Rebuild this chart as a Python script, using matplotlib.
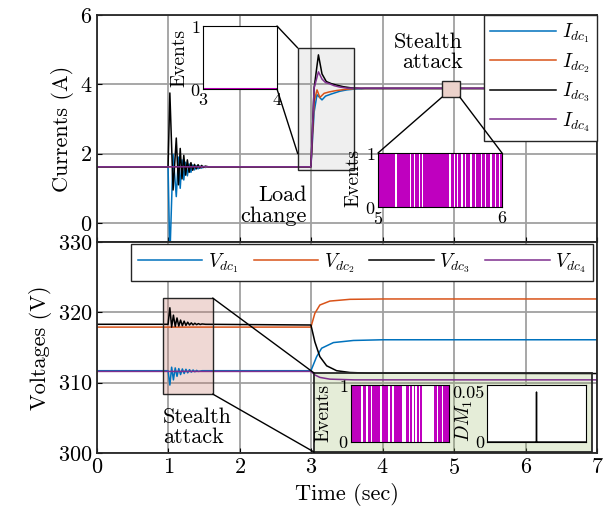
import matplotlib
matplotlib.use('Agg')
import matplotlib.pyplot as plt
from matplotlib.patches import Rectangle, ConnectionPatch

plt.rcParams.update({
    'font.family': 'serif',
    'font.serif': ['cmr10'],
    'mathtext.fontset': 'cm',
    'axes.formatter.use_mathtext': True,
    'font.size': 16,
    'xtick.direction': 'in',
    'ytick.direction': 'in',
})

W, H = 613, 527

# colours (MATLAB defaults)
C1, C2, C3, C4 = '#0072BD', '#D95319', 'black', '#7E2F8E'
EV = '#BF00BF'

# ---- currents (top) ----
i1_t = [0, 0.995, 1.02, 1.065, 1.11, 1.14, 1.165, 1.19, 1.215, 1.24, 1.265, 1.29, 1.315, 1.34, 1.365, 1.39, 1.415,
        1.44, 1.465, 1.49, 1.515, 1.56,
        2.995, 3.04, 3.08, 3.15, 3.2, 3.28, 3.4, 3.5, 3.6, 3.75, 7.0]
i1_v = [1.62, 1.62, -1.0, 1.98, 0.76, 1.90, 1.00, 1.82, 1.24, 1.75, 1.36, 1.70, 1.46, 1.67, 1.53, 1.65, 1.56,
        1.64, 1.58, 1.63, 1.60, 1.62,
        1.62, 3.2, 3.7, 3.55, 3.66, 3.72, 3.8, 3.84, 3.86, 3.88, 3.88]
i2_t = [0, 2.995, 3.04, 3.08, 3.12, 3.18, 3.25, 3.35, 3.5, 3.65, 7.0]
i2_v = [1.62, 1.62, 3.5, 3.84, 3.62, 3.74, 3.78, 3.82, 3.86, 3.88, 3.88]
i3_t = [0, 0.995, 1.02, 1.065, 1.11, 1.14, 1.165, 1.19, 1.215, 1.24, 1.265, 1.29, 1.315, 1.34, 1.365, 1.39, 1.415,
        1.44, 1.465, 1.49, 1.515, 1.56,
        2.995, 3.04, 3.1, 3.15, 3.21, 3.28, 3.35, 3.45, 3.55, 3.7, 7.0]
i3_v = [1.62, 1.62, 3.75, 0.95, 2.45, 1.10, 2.15, 1.27, 1.95, 1.38, 1.82, 1.46, 1.74, 1.52, 1.69, 1.56, 1.68,
        1.58, 1.66, 1.60, 1.64, 1.62,
        1.62, 3.9, 4.85, 4.3, 4.08, 4.02, 3.98, 3.93, 3.9, 3.88, 3.88]
i4_t = [0, 2.995, 3.04, 3.1, 3.15, 3.2, 3.25, 3.32, 3.4, 3.5, 7.0]
i4_v = [1.62, 1.62, 3.9, 4.36, 4.15, 4.05, 4.02, 3.96, 3.92, 3.89, 3.88]

# ---- voltages (bottom) ----
v1_t = [0, 0.995, 1.02, 1.045, 1.07, 1.095, 1.12, 1.145, 1.17, 1.195, 1.22, 1.245, 1.27, 1.295, 1.32, 1.345, 1.37,
        1.395, 1.42, 1.47,
        2.995, 3.075, 3.145, 3.31, 3.59, 4.0, 7.0]
v1_v = [311.7, 311.7, 309.66, 312.2, 310.4, 312.1, 310.9, 312.0, 311.15, 311.95, 311.3, 311.9, 311.4, 311.85, 311.5, 311.8, 311.55,
        311.75, 311.6, 311.7,
        311.7, 313.7, 314.9, 315.7, 316.0, 316.1, 316.1]
v2_t = [0, 2.995, 3.05, 3.12, 3.26, 3.54, 4.0, 7.0]
v2_v = [317.9, 317.9, 319.86, 321.04, 321.6, 321.85, 321.9, 321.9]
v3_t = [0, 0.995, 1.02, 1.045, 1.07, 1.095, 1.12, 1.145, 1.17, 1.195, 1.22, 1.245, 1.27, 1.295, 1.32, 1.345, 1.37,
        1.395, 1.42, 1.445, 1.47, 1.52,
        2.995, 3.05, 3.12, 3.215, 3.355, 3.54, 3.8, 7.0]
v3_v = [318.3, 318.3, 320.65, 317.9, 319.6, 318.0, 319.2, 318.05, 318.9, 318.1, 318.75, 318.15, 318.6, 318.2, 318.5, 318.22, 318.45,
        318.25, 318.4, 318.27, 318.35, 318.3,
        318.2, 315.8, 313.7, 312.4, 311.7, 311.45, 311.35, 311.3]
v4_t = [0, 2.995, 3.05, 3.12, 3.26, 3.6, 7.0]
v4_v = [311.6, 311.6, 311.1, 310.75, 310.5, 310.4, 310.4]

# ---- event insets ----
ev1_t = [3, 4]
ev1_v = [0, 0]
ev2_bursts = [(5.0, 5.137), (5.156, 5.256), (5.269, 5.288), (5.298, 5.327), (5.335, 5.356), (5.364, 5.573),
              (5.588, 5.612), (5.620, 5.639), (5.646, 5.673), (5.683, 5.704), (5.712, 5.744), (5.757, 5.784),
              (5.794, 5.831), (5.842, 5.863), (5.873, 5.902), (5.916, 5.942), (5.955, 5.976), (5.987, 5.997)]
ev3_bursts = [(0, 0.105), (0.122, 0.156), (0.173, 0.203), (0.217, 0.298), (0.319, 0.373), (0.393, 0.420),
              (0.434, 0.519), (0.563, 0.590), (0.607, 0.627), (0.641, 0.658), (0.671, 0.692), (0.702, 0.725),
              (0.847, 0.875), (0.888, 0.925), (0.936, 1.0)]
dm_t = [0, 0.499, 0.5, 0.501, 1]
dm_v = [0, 0, 0.05, 0, 0]

x_ticks = [0, 1, 2, 3, 4, 5, 6, 7]
i_ticks = [0, 2, 4, 6]
v_ticks = [300, 310, 320, 330]


def box(l, t, r, b):
    return [l / W, 1 - b / H, (r - l) / W, (b - t) / H]


def style(ax):
    ax.grid(True, color='#a0a0a0', lw=1.3)
    for s in ax.spines.values():
        s.set_color('#262626')
        s.set_linewidth(1.3)


fig = plt.figure(figsize=(W / 100, H / 100), dpi=100)

# ================= top: currents =================
ax1 = fig.add_axes(box(97, 15, 597, 242))
lw = 1.1
ax1.plot(i1_t, i1_v, color=C1, lw=lw, label=r'$I_{dc_1}$')
ax1.plot(i2_t, i2_v, color=C2, lw=lw, label=r'$I_{dc_2}$')
ax1.plot(i3_t, i3_v, color=C3, lw=lw, label=r'$I_{dc_3}$')
ax1.plot(i4_t, i4_v, color=C4, lw=lw, label=r'$I_{dc_4}$')
ax1.set_xlim(0, 7)
ax1.set_ylim(-0.55, 6)
ax1.set_xticks(x_ticks)
ax1.set_xticklabels([])
ax1.set_yticks(i_ticks)
ax1.set_ylabel('Currents (A)', fontsize=16)
style(ax1)
leg1 = ax1.legend(loc='upper right', borderaxespad=0, fancybox=False, framealpha=1,
                  edgecolor='#262626', fontsize=14, handlelength=3.4, handletextpad=0.3,
                  labelspacing=0.3, borderpad=0.35)
leg1.get_frame().set_linewidth(1.0)

ax1.add_patch(Rectangle((2.81, 1.53), 0.79, 3.52, facecolor='#808080', alpha=0.12, edgecolor='none', zorder=1.6))
ax1.add_patch(Rectangle((2.81, 1.53), 0.79, 3.52, facecolor='none', edgecolor='#262626', lw=1.0, zorder=3))
ax1.add_patch(Rectangle((4.83, 3.63), 0.25, 0.47, facecolor='#ecd2cb', edgecolor='#262626', lw=1.0, zorder=3))

ax1.text(5.12, 4.93, 'Stealth\nattack', ha='right', va='center', multialignment='right',
         fontsize=16, linespacing=1.05)
ax1.text(2.94, 0.50, 'Load\nchange', ha='right', va='center', multialignment='right',
         fontsize=16, linespacing=1.05)

# inset: events 3-4
in1 = fig.add_axes(box(203, 26, 277, 89))
in1.plot(ev1_t, ev1_v, color=EV, lw=1.5)
in1.set_xlim(3, 4)
in1.set_ylim(0, 1)
in1.set_xticks([3, 4])
in1.set_yticks([0, 1])
in1.tick_params(labelsize=13, pad=2, length=0)
in1.set_ylabel('Events', fontsize=14)
in1.yaxis.set_label_coords(-0.2, 0.5)

# inset: events 5-6
in2 = fig.add_axes(box(378, 153, 502, 207))
in2.broken_barh([(a, b - a) for a, b in ev2_bursts], (0, 1), facecolors=EV, edgecolor='none')
in2.set_xlim(5, 6)
in2.set_ylim(0, 1)
in2.set_xticks([5, 6])
in2.set_yticks([0, 1])
in2.tick_params(labelsize=13, pad=2, length=0)
in2.set_ylabel('Events', fontsize=14)
in2.yaxis.set_label_coords(-0.125, 0.54)

for xa, xb in [((1, 1), (2.81, 5.05)), ((1, 0), (2.81, 2.0))]:
    fig.add_artist(ConnectionPatch(xa, xb, coordsA=in1.transAxes, coordsB=ax1.transData, lw=1.0, color='black'))
for xa, xb in [((4.83, 3.63), (0, 1)), ((5.08, 3.63), (1, 1))]:
    fig.add_artist(ConnectionPatch(xa, xb, coordsA=ax1.transData, coordsB=in2.transAxes, lw=1.0, color='black'))

# ================= bottom: voltages =================
ax2 = fig.add_axes(box(97, 242, 597, 453))
ax2.plot(v1_t, v1_v, color=C1, lw=lw, label=r'$V_{dc_1}$')
ax2.plot(v2_t, v2_v, color=C2, lw=lw, label=r'$V_{dc_2}$')
ax2.plot(v3_t, v3_v, color=C3, lw=lw, label=r'$V_{dc_3}$')
ax2.plot(v4_t, v4_v, color=C4, lw=lw, label=r'$V_{dc_4}$')
ax2.set_xlim(0, 7)
ax2.set_ylim(300, 330)
ax2.set_xticks(x_ticks)
ax2.set_yticks(v_ticks)
ax2.set_xlabel('Time (sec)', fontsize=16)
ax2.set_ylabel('Voltages (V)', fontsize=16)
style(ax2)
leg2 = ax2.legend(loc='upper left', bbox_to_anchor=(0.068, 0.0, 0.924, 0.99), mode='expand', ncol=4,
                  fancybox=False, framealpha=1, edgecolor='#262626', fontsize=14, handlelength=3.3,
                  handletextpad=0.3, columnspacing=0.6, borderaxespad=0, borderpad=0.35)
leg2.get_frame().set_linewidth(1.0)

ax2.add_patch(Rectangle((0.92, 308.38), 0.70, 13.65, facecolor=(0.8, 0.5, 0.45), alpha=0.3,
                        edgecolor='none', zorder=1.6))
ax2.add_patch(Rectangle((0.92, 308.38), 0.70, 13.65, facecolor='none', edgecolor='#262626', lw=1.0, zorder=3))
ax2.add_patch(Rectangle((3.04, 300.13), 3.89, 11.24, facecolor=(0.6, 0.72, 0.4), alpha=0.25,
                        edgecolor='none', zorder=1.6))
ax2.add_patch(Rectangle((3.04, 300.13), 3.89, 11.24, facecolor='none', edgecolor='#262626', lw=1.3, zorder=3))
ax2.text(0.92, 303.7, 'Stealth\nattack', ha='left', va='center', fontsize=16, linespacing=1.05)

for xa, xb in [((1.62, 322.03), (3.04, 311.37)), ((1.62, 308.38), (3.04, 300.13))]:
    fig.add_artist(ConnectionPatch(xa, xb, coordsA=ax2.transData, coordsB=ax2.transData, lw=1.0, color='black'))

# inset: events (bottom)
in3 = fig.add_axes(box(351, 385, 449, 442))
in3.broken_barh([(a, b - a) for a, b in ev3_bursts], (0, 1), facecolors=EV, edgecolor='none')
in3.set_xlim(0, 1)
in3.set_ylim(0, 1)
in3.set_xticks([])
in3.set_yticks([0, 1])
in3.tick_params(labelsize=13, pad=2, length=0)
in3.set_ylabel('Events', fontsize=14)
in3.yaxis.set_label_coords(-0.19, 0.5)

# inset: DM
in4 = fig.add_axes(box(487, 385, 586, 442))
in4.plot(dm_t, dm_v, color='black', lw=1.0)
in4.set_xlim(0, 1)
in4.set_ylim(0, 0.057)
in4.set_xticks([])
in4.set_yticks([0, 0.05])
in4.set_yticklabels(['0', '0.05'])
in4.tick_params(labelsize=13, pad=2, length=0)
in4.set_ylabel(r'$DM_1$', fontsize=14)
in4.yaxis.set_label_coords(-0.12, 0.37)

fig.savefig('out.png', dpi=100)
